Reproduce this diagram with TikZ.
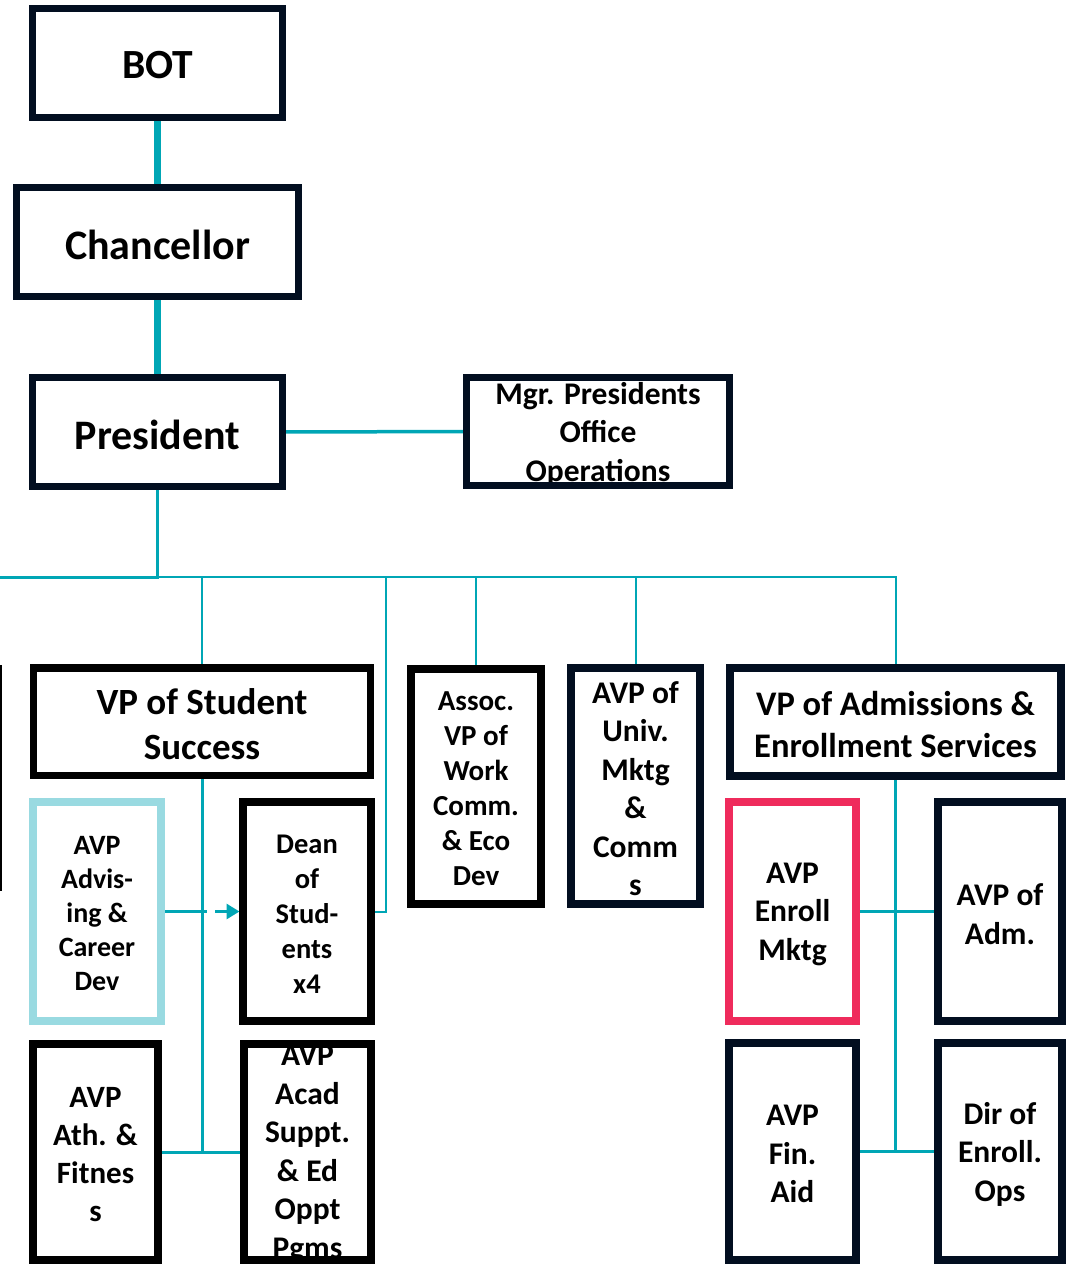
\documentclass[tikz,border=0pt]{standalone}
\usepackage{fontspec}
\setmainfont{Carlito}
\usetikzlibrary{fit,arrows.meta}
\definecolor{orgteal}{RGB}{0,166,181}
\definecolor{orgnavy}{RGB}{2,14,32}
\definecolor{orgpink}{RGB}{239,43,92}
\definecolor{orglight}{RGB}{153,218,225}
\newcommand\mkbox[5]{\coordinate (#1a) at (#2,#3); \coordinate (#1b) at (#4,#5);
  \node[fit=(#1a)(#1b), inner sep=0pt, outer sep=0pt] (#1) {};}
\newcommand\fs[2]{\fontsize{#1}{#2}\selectfont\bfseries}
\tikzset{
  tl/.style={draw=orgteal},
  frm/.style={draw=#1, line width=7.5pt},
  txt/.style={align=center, inner sep=0pt, text=black, yshift=-2.5pt},
}
\begin{document}
\begin{tikzpicture}[x=1pt,y=-1pt]
\useasboundingbox (0,0) rectangle (1066,1264);
% geometry
\mkbox{bot}{32.7}{8.7}{282.3}{117.3}
\mkbox{chan}{16.7}{187.7}{298.3}{296.3}
\mkbox{pres}{32.7}{377.7}{282.3}{486.3}
\mkbox{mgr}{466.5}{377.5}{729.5}{485.5}
\mkbox{offl}{-130}{669}{-1.5}{887}
\mkbox{vpss}{33.5}{668}{370.5}{775.5}
\mkbox{adv}{33}{802}{161}{1021}
\mkbox{dean}{243}{802}{371}{1021}
\mkbox{ath}{33}{1044}{158}{1260}
\mkbox{acad}{244}{1044}{371}{1260}
\mkbox{assoc}{411}{669}{541}{904}
\mkbox{univ}{571}{668}{700}{904}
\mkbox{vpadm}{730}{668}{1061}{776}
\mkbox{enroll}{729}{802}{856}{1021}
\mkbox{adm}{938}{802}{1062}{1021}
\mkbox{fin}{729}{1043}{856}{1260}
\mkbox{dir}{938}{1043}{1062}{1260}
\coordinate (busL) at (-10,577);
\coordinate (dj) at (386,577);
% connectors
\draw[tl, line width=7pt] (bot.south) -- (chan.north);
\draw[tl, line width=7pt] (chan.south) -- (pres.north);
\draw[tl, line width=3.5pt] (pres.east) -- (mgr.west);
\draw[tl, line width=3pt] (pres.south) |- (busL);
\draw[tl, line width=2pt] (pres.south |- busL) -| (vpadm.north);
\draw[tl, line width=2pt] (vpss.north |- busL) -- (vpss.north);
\draw[tl, line width=2pt] (assoc.north |- busL) -- (assoc.north);
\draw[tl, line width=2pt] (univ.north |- busL) -- (univ.north);
\draw[tl, line width=2pt] (dj) |- (dean.east);
\draw[tl, line width=3pt] (vpss.south) -- (vpss.south |- ath.east);
\draw[tl, line width=3pt] (ath.east) -- (acad.west);
\draw[tl, line width=3pt, dash pattern=on 46pt off 8pt on 12pt off 30pt,
  -{Triangle[length=13pt,width=15pt]}] (adv.east) -- ([xshift=-3.5pt]dean.west);
\draw[tl, line width=3pt] (vpadm.south) -- (vpadm.south |- fin.east);
\draw[tl, line width=3pt] (enroll.east) -- (adm.west);
\draw[tl, line width=3pt] (fin.east) -- (dir.west);
% texts
\node[txt, font=\fs{41.5}{50}] (botT) at (bot) {BOT};
\node[txt, font=\fs{42}{50}] (chanT) at (chan) {Chancellor};
\node[txt, font=\fs{42}{50}] (presT) at (pres) {President};
\node[txt, font=\fs{31.5}{38.5}] (mgrT) at (mgr) {Mgr. Presidents\\Office\\Operations};
\node[txt, font=\fs{37}{45}] (vpssT) at (vpss) {VP of Student\\Success};
\node[txt, font=\fs{28}{34}] (advT) at (adv) {AVP\\Advis-\\ing \&\\Career\\Dev};
\node[txt, font=\fs{28.5}{35}] (deanT) at (dean) {Dean\\of\\Stud-\\ents\\x4};
\node[txt, font=\fs{31}{38}] (athT) at (ath) {AVP\\Ath. \&\\Fitnes\\s};
\node[txt, font=\fs{31.5}{38.5}] (acadT) at (acad) {AVP\\Acad\\Suppt.\\\& Ed\\Oppt\\Pgms};
\node[txt, font=\fs{29}{35}] (assocT) at (assoc) {Assoc.\\VP of\\Work\\Comm.\\\& Eco\\Dev};
\node[txt, font=\fs{31.5}{38.5}] (univT) at (univ) {AVP of\\Univ.\\Mktg\\\&\\Comm\\s};
\node[txt, font=\fs{34.5}{42}] (vpadmT) at (vpadm) {VP of Admissions \&\\Enrollment Services};
\node[txt, font=\fs{31.5}{38.5}] (enrollT) at (enroll) {AVP\\Enroll\\Mktg};
\node[txt, font=\fs{31.5}{38.5}] (admT) at (adm) {AVP of\\Adm.};
\node[txt, font=\fs{31.5}{38.5}] (finT) at (fin) {AVP\\Fin.\\Aid};
\node[txt, font=\fs{31.5}{38.5}] (dirT) at (dir) {Dir of\\Enroll.\\Ops};
% frames
\foreach \n/\c in {bot/orgnavy,chan/orgnavy,pres/orgnavy,mgr/orgnavy,offl/black,
  vpss/black,adv/orglight,dean/black,ath/black,acad/black,assoc/black,univ/orgnavy,
  vpadm/orgnavy,enroll/orgpink,adm/orgnavy,fin/orgnavy,dir/orgnavy}
  \draw[frm=\c] (\n.north west) rectangle (\n.south east);
\end{tikzpicture}
\end{document}
